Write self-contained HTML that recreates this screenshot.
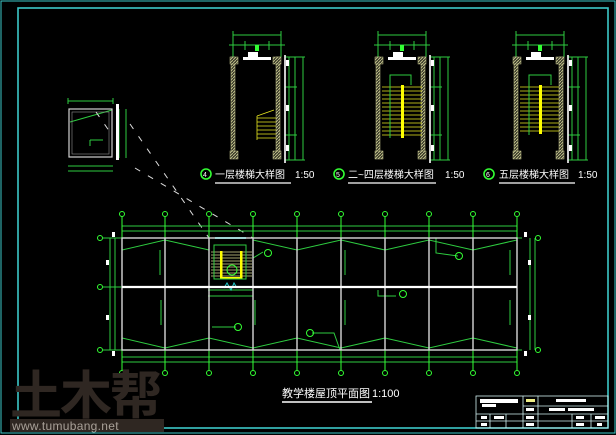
<!DOCTYPE html>
<html><head><meta charset="utf-8"><style>
html,body{margin:0;padding:0;background:#000;width:616px;height:435px;overflow:hidden}
svg{display:block}
text{font-family:"Liberation Sans","Noto Sans CJK SC",sans-serif}
</style></head><body>
<svg width="616" height="435" viewBox="0 0 616 435" xmlns="http://www.w3.org/2000/svg">
<defs>
<pattern id="h" width="3" height="3" patternUnits="userSpaceOnUse"><rect width="3" height="3" fill="#3a3a2a"/><path d="M0,3 L3,0" stroke="#c8c890" stroke-width="0.8"/></pattern>
</defs>
<rect width="616" height="435" fill="#000"/>
<rect x="1" y="1" width="614" height="432" fill="none" stroke="#3cc8c8" stroke-width="1"/>
<rect x="18" y="8" width="590" height="420" fill="none" stroke="#3cc8c8" stroke-width="1.6"/>

<!-- left detail -->
<g stroke="#2ecc40" fill="none" stroke-width="1">
<line x1="68" y1="101" x2="113" y2="101"/><line x1="68" y1="98" x2="68" y2="104"/><line x1="113" y1="98" x2="113" y2="104"/>
<line x1="68" y1="166" x2="113" y2="166"/><line x1="68" y1="171" x2="113" y2="171"/>
<line x1="119" y1="109" x2="119" y2="158"/><line x1="126" y1="109" x2="126" y2="158"/>
<line x1="70" y1="122" x2="112" y2="110"/><line x1="90" y1="140" x2="90" y2="146"/><line x1="90" y1="140" x2="103" y2="140"/>
</g>
<rect x="69" y="109" width="43" height="48" fill="none" stroke="#d0d0d0" stroke-width="1.2"/>
<rect x="72" y="112" width="37" height="42" fill="none" stroke="#909090" stroke-width="0.6"/>
<rect x="116" y="104" width="3" height="56" fill="#fff"/>
<g stroke="#ddd" stroke-width="1" stroke-dasharray="6,9" fill="none">
<line x1="130" y1="124" x2="209" y2="238"/>
<line x1="135" y1="168" x2="253" y2="238"/>
<line x1="96" y1="112" x2="112" y2="135"/>
</g>

<defs>
<g id="st">
 <g stroke="#2ecc40" stroke-width="1" fill="none">
  <line x1="0" y1="35" x2="48" y2="35"/><line x1="0" y1="31" x2="0" y2="57"/><line x1="48" y1="31" x2="48" y2="57"/>
  <line x1="-4" y1="45" x2="52" y2="45"/><line x1="12" y1="41" x2="12" y2="50"/><line x1="36" y1="41" x2="36" y2="50"/>
  <line x1="56" y1="57" x2="56" y2="160"/><line x1="62" y1="57" x2="62" y2="160"/><line x1="70" y1="57" x2="70" y2="160"/>
  <line x1="52" y1="57" x2="72" y2="57"/><line x1="52" y1="160" x2="72" y2="160"/>
  <line x1="52" y1="87" x2="64" y2="87"/><line x1="52" y1="135" x2="64" y2="135"/>
 </g>
 <rect x="22" y="45" width="4" height="6" fill="#3f3"/>
 <rect x="51" y="55" width="2" height="108" fill="#fff" opacity="0.8"/>
 <rect x="53" y="60" width="3" height="6" fill="#fff"/><rect x="53" y="105" width="3" height="6" fill="#fff"/><rect x="53" y="145" width="3" height="6" fill="#fff"/>
 <rect x="10" y="57" width="28" height="3" fill="#fff"/>
 <rect x="15" y="52" width="10" height="5" fill="#fff"/>
 <rect x="-2" y="57" width="4" height="100" fill="url(#h)" stroke="#c8c890" stroke-width="0.5"/>
 <rect x="43" y="57" width="4" height="100" fill="url(#h)" stroke="#c8c890" stroke-width="0.5"/>
 <rect x="-3" y="57" width="8" height="7" fill="url(#h)" stroke="#c8c890" stroke-width="0.5"/><rect x="40" y="57" width="8" height="7" fill="url(#h)" stroke="#c8c890" stroke-width="0.5"/>
 <rect x="-3" y="151" width="8" height="8" fill="url(#h)" stroke="#c8c890" stroke-width="0.5"/><rect x="40" y="151" width="8" height="8" fill="url(#h)" stroke="#c8c890" stroke-width="0.5"/>
</g>
</defs>
<use href="#st" x="233" y="0"/>
<use href="#st" x="378" y="0"/>
<use href="#st" x="516" y="0"/>

<g stroke="#e8e820" stroke-width="0.8">
<line x1="257" y1="118" x2="276" y2="118"/><line x1="257" y1="122" x2="276" y2="122"/><line x1="257" y1="126" x2="276" y2="126"/><line x1="257" y1="130" x2="276" y2="130"/><line x1="257" y1="134" x2="276" y2="134"/><line x1="257" y1="138" x2="276" y2="138"/>
<line x1="257" y1="116" x2="257" y2="140"/><line x1="257" y1="116" x2="274" y2="110"/>
</g>
<g stroke="#e8e820" stroke-width="0.8">
<line x1="382" y1="87" x2="422" y2="87"/><line x1="382" y1="91" x2="422" y2="91"/><line x1="382" y1="95" x2="422" y2="95"/><line x1="382" y1="99" x2="422" y2="99"/><line x1="382" y1="103" x2="422" y2="103"/><line x1="382" y1="107" x2="422" y2="107"/><line x1="382" y1="111" x2="422" y2="111"/><line x1="382" y1="115" x2="422" y2="115"/><line x1="382" y1="119" x2="422" y2="119"/><line x1="382" y1="123" x2="422" y2="123"/><line x1="382" y1="127" x2="422" y2="127"/><line x1="382" y1="131" x2="422" y2="131"/><line x1="382" y1="135" x2="422" y2="135"/>
<line x1="520" y1="87" x2="559" y2="87"/><line x1="520" y1="91" x2="559" y2="91"/><line x1="520" y1="95" x2="559" y2="95"/><line x1="520" y1="99" x2="559" y2="99"/><line x1="520" y1="103" x2="559" y2="103"/><line x1="520" y1="107" x2="559" y2="107"/><line x1="520" y1="111" x2="559" y2="111"/><line x1="520" y1="115" x2="559" y2="115"/><line x1="520" y1="119" x2="559" y2="119"/><line x1="520" y1="123" x2="559" y2="123"/><line x1="520" y1="127" x2="559" y2="127"/><line x1="520" y1="131" x2="559" y2="131"/>
</g>
<rect x="401" y="85" width="3" height="53" fill="#ff0"/>
<rect x="539" y="85" width="3" height="49" fill="#ff0"/>
<g stroke="#2ecc40" fill="none" stroke-width="1">
<polyline points="390,138 390,75 411,75 411,85"/>
<polyline points="529,135 529,75 551,75 551,85"/>
</g>

<g fill="none" stroke="#3f3" stroke-width="1.6">
<circle cx="206" cy="174" r="5"/><circle cx="339" cy="174" r="5"/><circle cx="489" cy="174" r="5"/>
</g>
<g fill="#fff" font-size="10">
<text x="203" y="177" font-size="7">4</text><text x="336" y="177" font-size="7">5</text><text x="486" y="177" font-size="7">6</text>
<text x="215" y="178">一层楼梯大样图</text><text x="295" y="178">1:50</text>
<text x="348" y="178">二~四层楼梯大样图</text><text x="445" y="178">1:50</text>
<text x="499" y="178">五层楼梯大样图</text><text x="578" y="178">1:50</text>
</g>
<g stroke="#fff" stroke-width="1.2">
<line x1="215" y1="183" x2="291" y2="183"/><line x1="348" y1="183" x2="436" y2="183"/><line x1="499" y1="183" x2="575" y2="183"/>
</g>

<g stroke="#2ecc40" fill="none" stroke-width="1">
<line x1="122" y1="226" x2="517" y2="226"/><line x1="122" y1="231" x2="517" y2="231"/>
<line x1="122" y1="357" x2="517" y2="357"/><line x1="122" y1="362" x2="517" y2="362"/>
<line x1="110" y1="238" x2="110" y2="350"/><line x1="115" y1="238" x2="115" y2="350"/>
<line x1="530" y1="238" x2="530" y2="350"/><line x1="535" y1="238" x2="535" y2="350"/>
<line x1="103" y1="238" x2="122" y2="238"/><line x1="103" y1="287" x2="122" y2="287"/><line x1="103" y1="350" x2="122" y2="350"/>
<line x1="517" y1="238" x2="522" y2="238"/><line x1="517" y1="350" x2="522" y2="350"/>
<polyline points="122,250 165,240 209,250"/><polyline points="253,240 297,250 341,240 385,250 429,240 473,250 517,240"/>
<polyline points="122,338 165,348 209,338 253,348 297,338 341,348 385,338 429,348 473,338 517,348"/>
<line x1="160" y1="250" x2="160" y2="275"/><line x1="161" y1="300" x2="161" y2="325"/>
<line x1="255" y1="300" x2="255" y2="325"/><line x1="345" y1="250" x2="345" y2="275"/><line x1="345" y1="300" x2="345" y2="325"/>
<line x1="429" y1="250" x2="429" y2="275"/><line x1="510" y1="250" x2="510" y2="275"/><line x1="510" y1="300" x2="510" y2="325"/>
<polyline points="436,238 436,253 458,256"/><polyline points="378,290 378,296 396,296"/><polyline points="312,333 334,333 340,350"/>
<line x1="212" y1="327" x2="236" y2="327"/><line x1="208" y1="290" x2="253" y2="290"/><line x1="208" y1="296" x2="253" y2="296"/>
<line x1="253" y1="258" x2="263" y2="252"/>
</g>
<g stroke="#3f3" fill="none" stroke-width="1">
<line x1="122" y1="216" x2="122" y2="238"/><line x1="165" y1="216" x2="165" y2="238"/><line x1="209" y1="216" x2="209" y2="238"/><line x1="253" y1="216" x2="253" y2="238"/><line x1="297" y1="216" x2="297" y2="238"/><line x1="341" y1="216" x2="341" y2="238"/><line x1="385" y1="216" x2="385" y2="238"/><line x1="429" y1="216" x2="429" y2="238"/><line x1="473" y1="216" x2="473" y2="238"/><line x1="517" y1="216" x2="517" y2="238"/>
<line x1="122" y1="350" x2="122" y2="371"/><line x1="165" y1="350" x2="165" y2="371"/><line x1="209" y1="350" x2="209" y2="371"/><line x1="253" y1="350" x2="253" y2="371"/><line x1="297" y1="350" x2="297" y2="371"/><line x1="341" y1="350" x2="341" y2="371"/><line x1="385" y1="350" x2="385" y2="371"/><line x1="429" y1="350" x2="429" y2="371"/><line x1="473" y1="350" x2="473" y2="371"/><line x1="517" y1="350" x2="517" y2="371"/>
<circle cx="122" cy="214" r="2.5"/><circle cx="165" cy="214" r="2.5"/><circle cx="209" cy="214" r="2.5"/><circle cx="253" cy="214" r="2.5"/><circle cx="297" cy="214" r="2.5"/><circle cx="341" cy="214" r="2.5"/><circle cx="385" cy="214" r="2.5"/><circle cx="429" cy="214" r="2.5"/><circle cx="473" cy="214" r="2.5"/><circle cx="517" cy="214" r="2.5"/>
<circle cx="122" cy="373" r="2.5"/><circle cx="165" cy="373" r="2.5"/><circle cx="209" cy="373" r="2.5"/><circle cx="253" cy="373" r="2.5"/><circle cx="297" cy="373" r="2.5"/><circle cx="341" cy="373" r="2.5"/><circle cx="385" cy="373" r="2.5"/><circle cx="429" cy="373" r="2.5"/><circle cx="473" cy="373" r="2.5"/><circle cx="517" cy="373" r="2.5"/>
<circle cx="100" cy="238" r="2.5"/><circle cx="100" cy="287" r="2.5"/><circle cx="100" cy="350" r="2.5"/>
<circle cx="538" cy="238" r="2.5"/><circle cx="538" cy="350" r="2.5"/>
<circle cx="268" cy="253" r="3.5"/><circle cx="459" cy="256" r="3.5"/><circle cx="403" cy="294" r="3.5"/><circle cx="238" cy="327" r="3.5"/><circle cx="310" cy="333" r="3.5"/>
</g>
<g stroke="#d8d890" stroke-width="0.8">
<line x1="211" y1="252" x2="252" y2="252"/><line x1="211" y1="255" x2="252" y2="255"/><line x1="211" y1="258" x2="252" y2="258"/><line x1="211" y1="261" x2="252" y2="261"/><line x1="211" y1="264" x2="252" y2="264"/><line x1="211" y1="267" x2="252" y2="267"/><line x1="211" y1="270" x2="252" y2="270"/><line x1="211" y1="273" x2="252" y2="273"/><line x1="211" y1="276" x2="252" y2="276"/>
</g>
<rect x="220" y="251" width="2.5" height="28" fill="#ff0"/><rect x="240" y="251" width="2.5" height="28" fill="#ff0"/><rect x="220" y="277" width="22" height="2.5" fill="#ff0"/>
<rect x="214" y="245" width="32" height="34" fill="none" stroke="#2ecc40" stroke-width="1"/>
<circle cx="232" cy="270" r="5" fill="none" stroke="#3f3"/>
<line x1="215" y1="238" x2="246" y2="238" stroke="#2cc" stroke-width="2"/>
<polyline points="224,288 227,283 231,290 234,283 237,288" fill="none" stroke="#2cc" stroke-width="1"/>
<g stroke="#d8d8d8" stroke-width="1.4" fill="none">
<rect x="122" y="238" width="395" height="112"/>
<line x1="165" y1="238" x2="165" y2="350"/><line x1="209" y1="238" x2="209" y2="350"/><line x1="253" y1="238" x2="253" y2="350"/><line x1="297" y1="238" x2="297" y2="350"/><line x1="341" y1="238" x2="341" y2="350"/><line x1="385" y1="238" x2="385" y2="350"/><line x1="429" y1="238" x2="429" y2="350"/><line x1="473" y1="238" x2="473" y2="350"/>
</g>
<line x1="122" y1="287" x2="517" y2="287" stroke="#fff" stroke-width="2.2"/>
<g fill="#fff"><rect x="112" y="232" width="3" height="5"/><rect x="112" y="351" width="3" height="5"/><rect x="524" y="232" width="3" height="5"/><rect x="524" y="351" width="3" height="5"/><rect x="106" y="260" width="3" height="5"/><rect x="106" y="315" width="3" height="5"/><rect x="528" y="260" width="3" height="5"/><rect x="528" y="315" width="3" height="5"/></g>

<text x="10" y="414" font-size="52" font-weight="bold" fill="#2f2722" font-family="'Noto Sans CJK SC',sans-serif" letter-spacing="-2">土木帮</text>
<rect x="10" y="419" width="154" height="13" fill="#2f2722"/>
<text x="12" y="430" font-size="12" fill="#a8a098" font-family="'Liberation Mono',monospace" letter-spacing="0.3">www.tumubang.net</text>

<text x="282" y="397" font-size="11" fill="#fff">教学楼屋顶平面图</text>
<text x="372" y="397" font-size="11" fill="#fff">1:100</text>
<line x1="282" y1="402" x2="372" y2="402" stroke="#fff" stroke-width="1.4"/>

<g stroke="#d0f0f0" stroke-width="0.8" fill="none">
<rect x="476" y="396" width="132" height="32"/>
<line x1="523" y1="396" x2="523" y2="428"/><line x1="538" y1="396" x2="538" y2="428"/>
<line x1="523" y1="406" x2="608" y2="406"/><line x1="476" y1="414" x2="608" y2="414"/><line x1="476" y1="421" x2="608" y2="421"/>
<line x1="490" y1="414" x2="490" y2="428"/><line x1="506" y1="414" x2="506" y2="428"/>
<line x1="572" y1="414" x2="572" y2="428"/><line x1="591" y1="414" x2="591" y2="428"/>
</g>
<g fill="#fff">
<rect x="480" y="399" width="38" height="4"/><rect x="482" y="404" width="14" height="3"/>
<rect x="526" y="399" width="9" height="3" fill="#ee8"/><rect x="556" y="399" width="30" height="3"/>
<rect x="549" y="408" width="16" height="3"/><rect x="568" y="408" width="26" height="3"/>
<rect x="481" y="416" width="6" height="3"/><rect x="494" y="416" width="10" height="3"/><rect x="526" y="416" width="8" height="3"/>
<rect x="576" y="416" width="8" height="3"/><rect x="595" y="416" width="10" height="3"/>
<rect x="481" y="423" width="6" height="3"/><rect x="526" y="423" width="8" height="3"/><rect x="576" y="423" width="8" height="3"/><rect x="597" y="423" width="5" height="3"/>
<rect x="526" y="408" width="8" height="3"/>
</g>
</svg>
</body></html>
